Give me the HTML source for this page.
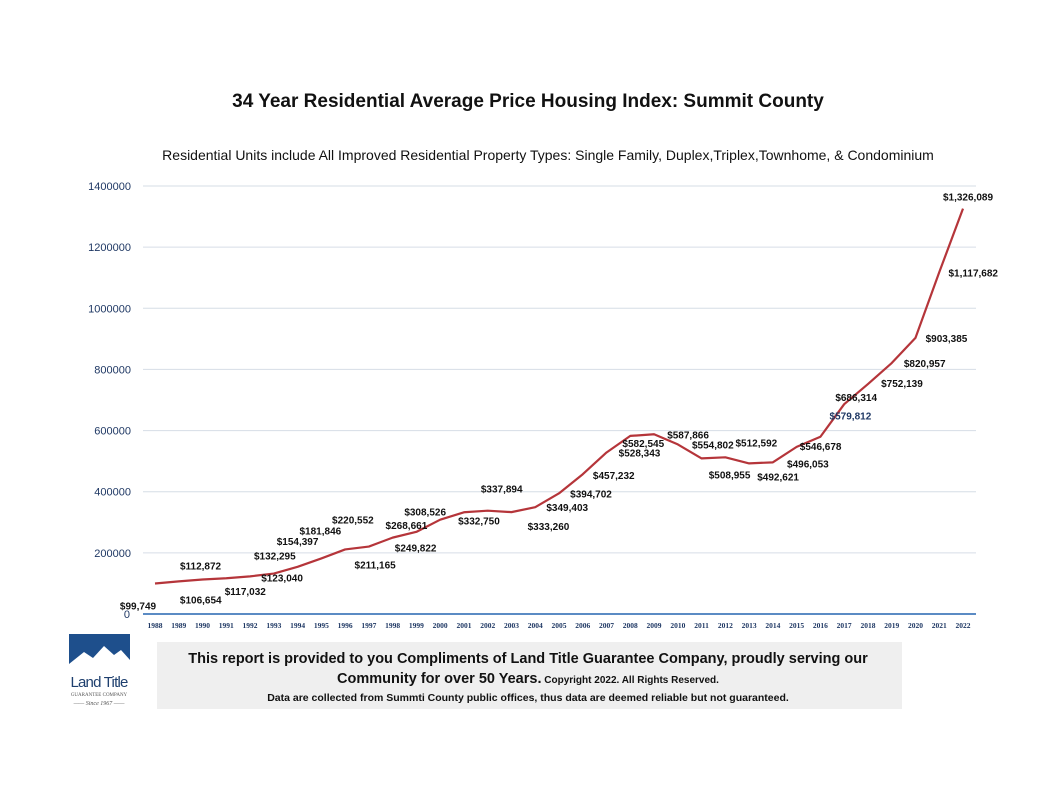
<!DOCTYPE html>
<html><head><meta charset="utf-8">
<style>
body{margin:0;background:#fff;width:1064px;height:798px;overflow:hidden;font-family:"Liberation Sans",sans-serif}
</style></head><body>
<svg id="chart" width="1064" height="798" viewBox="0 0 1064 798" xmlns="http://www.w3.org/2000/svg">
<text x="528" y="107" text-anchor="middle" font-family="Liberation Sans, sans-serif" font-weight="bold" font-size="19" fill="#111">34 Year Residential Average Price Housing Index: Summit County</text>
<text x="548" y="160" text-anchor="middle" font-family="Liberation Sans, sans-serif" font-size="14" fill="#111">Residential Units include All Improved Residential Property Types: Single Family, Duplex,Triplex,Townhome, &amp; Condominium</text>
<g id="grid"></g><g id="yticks"></g><g id="xticks"></g><g id="series"></g><g id="labels"></g>
<g>
<rect x="69" y="634" width="61" height="36" fill="#1e4f8c"/>
<polygon points="69,670 69,664 84,652 93,658 104,646 114,655 121,650 130,660 130,670" fill="#fff"/>
<text x="99" y="687" text-anchor="middle" font-family="Liberation Sans, sans-serif" font-size="15" fill="#1e3f6e" letter-spacing="-0.8">Land Title</text>
<text x="99" y="696" text-anchor="middle" font-family="Liberation Serif, serif" font-size="5" fill="#555">GUARANTEE COMPANY</text>
<text x="99" y="705" text-anchor="middle" font-family="Liberation Serif, serif" font-style="italic" font-size="6" fill="#555">—— Since 1967 ——</text>
</g>
<g>
<rect x="157" y="642" width="745" height="67" fill="#efefef"/>
<text x="528" y="663" text-anchor="middle" font-family="Liberation Sans, sans-serif" font-weight="bold" font-size="14.5" fill="#111">This report is provided to you Compliments of Land Title Guarantee Company, proudly serving our</text>
<text x="528" y="683" text-anchor="middle" font-family="Liberation Sans, sans-serif" fill="#111"><tspan font-weight="bold" font-size="14.5">Community for over 50 Years.</tspan><tspan font-weight="bold" font-size="10">   Copyright 2022.  All Rights Reserved.</tspan></text>
<text x="528" y="701" text-anchor="middle" font-family="Liberation Sans, sans-serif" font-weight="bold" font-size="10.5" fill="#111">Data are collected from Summti County public offices, thus data are deemed reliable but not guaranteed.</text>
</g>
</svg>
<script>
const years=[1988,1989,1990,1991,1992,1993,1994,1995,1996,1997,1998,1999,2000,2001,2002,2003,2004,2005,2006,2007,2008,2009,2010,2011,2012,2013,2014,2015,2016,2017,2018,2019,2020,2021,2022];
const prices=[99749,106654,112872,117032,123040,132295,154397,181846,211165,220552,249822,268661,308526,332750,337894,333260,349403,394702,457232,528343,582545,587866,554802,508955,512592,492621,496053,546678,579812,686314,752139,820957,903385,1117682,1326089];
const yTicks=[0,200000,400000,600000,800000,1000000,1200000,1400000];
const labelDx=[-17,22,-2,19,32,1,0,-1,30,-16,23,-10,-15,15,14,37,32,32,31,33,13,34,35,28,31,29,35,24,30,12,34,33,31,34,5];
const labelDy=[22,18,-14,13,1,-18,-26,-28,15,-27,10,-7,-8,8,-22,14,0,0,1,0,7,0,0,16,-15,13,1,-1,-21,-7,-1,0,0,0,-12];
const NS="http://www.w3.org/2000/svg";
const x0=155,x1=963,yBase=614,yTop=186,yMax=1400000;
function xs(i){return x0+i*(x1-x0)/(years.length-1);}
function ys(v){return yBase-v*(yBase-yTop)/yMax;}
function mk(t,a,p){const e=document.createElementNS(NS,t);for(const k in a)e.setAttribute(k,a[k]);p.appendChild(e);return e;}
const grid=document.getElementById('grid'),yt=document.getElementById('yticks'),xt=document.getElementById('xticks'),se=document.getElementById('series'),lb=document.getElementById('labels');
yTicks.forEach(v=>{
  if(v>0){const l=mk('line',{x1:143,x2:976,y1:ys(v),y2:ys(v),stroke:'#d6dde6','stroke-width':1},grid);
  
  }
  const t=mk('text',{x:v===0?130:131,y:ys(v)+4,'text-anchor':'end','font-size':11,fill:'#1f3864','font-family':'Liberation Sans, sans-serif'},yt);
  t.textContent=String(v);
  
  
});
const ax=mk('line',{x1:143,x2:976,y1:yBase,y2:yBase,stroke:'#5b8bc4','stroke-width':2},grid);


years.forEach((y,i)=>{
  const t=mk('text',{x:xs(i),y:628,'text-anchor':'middle','font-size':7.5,fill:'#1f3864','font-weight':'bold','font-family':'Liberation Serif, serif'},xt);
  t.textContent=y;
  
  
});
const path=mk('polyline',{points:prices.map((v,i)=>xs(i)+','+ys(v)).join(' '),fill:'none',stroke:'#b5353a','stroke-width':2.2,'stroke-linejoin':'round'},se);


prices.forEach((v,i)=>{
  const t=mk('text',{x:xs(i)+labelDx[i],y:ys(v)+labelDy[i]+4,'text-anchor':'middle','font-size':10,'font-weight':'bold',fill:i===28?'#1f3864':'#111','font-family':'Liberation Sans, sans-serif'},lb);
  t.textContent='$'+v.toLocaleString('en-US');
  
  
});
</script>
</body></html>
